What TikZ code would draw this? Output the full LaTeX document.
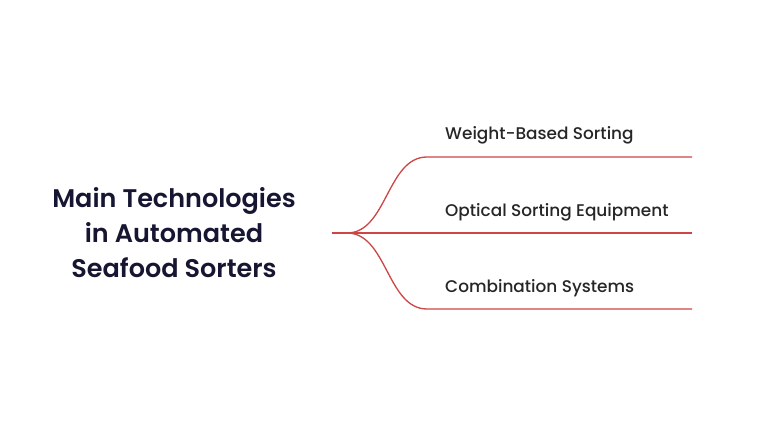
\documentclass[tikz,border=0pt]{standalone}
\usepackage{fontspec}
\setmainfont{Poppins}
\newfontfamily\titlefont{Poppins SemiBold}
\newfontfamily\leaffont{Poppins Medium}
\definecolor{branchred}{RGB}{205,70,70}
\definecolor{titleblue}{RGB}{22,22,50}
\begin{document}
\begin{tikzpicture}[x=1pt,y=-1pt,
  branch/.style={draw=branchred, line width=1.3pt},
  leaf/.style={anchor=west, inner sep=0pt, font=\leaffont\fontsize{16.9}{20}\selectfont, text=black!85},
  titlestyle/.style={align=center, inner sep=0pt, font=\titlefont\fontsize{25.5}{35}\selectfont, text=titleblue}]
\useasboundingbox (0,0) rectangle (768,427);
\fill[white] (0,0) rectangle (768,427);
\node[titlestyle] (root) at (174,233) {Main Technologies\\in Automated\\Seafood Sorters};
\coordinate (r0) at (332,233);
\coordinate (rj) at (347,233);
\coordinate (t1) at (427,157);
\coordinate (t2) at (692,157);
\coordinate (m2) at (692,233);
\coordinate (b1) at (427,309);
\coordinate (b2) at (692,309);
\draw[branch] (r0) -- (rj) .. controls (387,233) and (387,157) .. (t1) -- (t2);
\draw[branch] (r0) -- (m2);
\draw[branch] (rj) .. controls (387,233) and (387,309) .. (b1) -- (b2);
\node[leaf] (l1) at (445,135.5) {Weight-Based Sorting};
\node[leaf] (l2) at (445,212.5) {Optical Sorting Equipment};
\node[leaf] (l3) at (445,288.5) {Combination Systems};
\end{tikzpicture}
\end{document}
